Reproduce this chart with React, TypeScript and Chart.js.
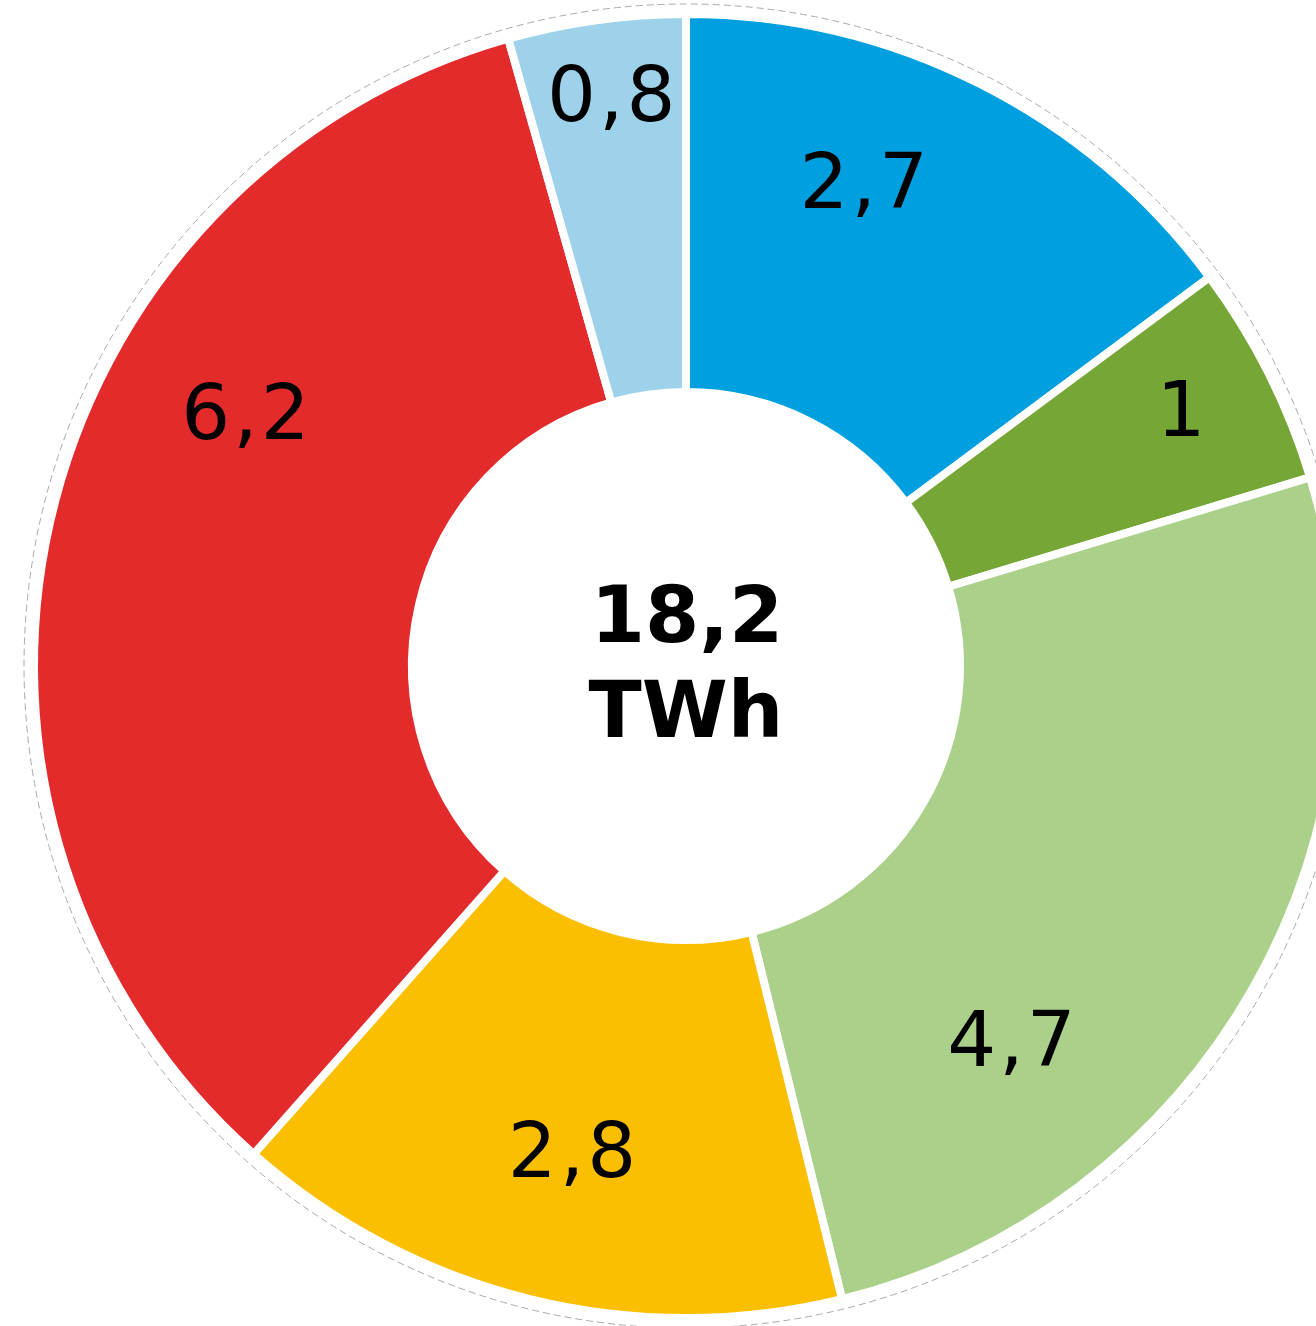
import React, { useEffect, useRef } from 'react';
import { Chart, registerables } from 'chart.js';

Chart.register(...registerables);

const categories = ['Segment A', 'Segment B', 'Segment C', 'Segment D', 'Segment E', 'Segment F'];
const values = [2.7, 1, 4.7, 2.8, 6.2, 0.8];
const valueLabels = ['2,7', '1', '4,7', '2,8', '6,2', '0,8'];
const colors = ['#009FDF', '#76A736', '#ABD08A', '#FBBF00', '#E32B2C', '#9DD2EA'];
const totalLines = ['18,2', 'TWh'];
// label placement inside each arc (fraction of the arc's angle span / ring thickness)
const labelAngleFrac = [0.376, 0.46, 0.706, 0.49, 0.64, 0.53];
const labelRadiusFrac = [0.648, 0.757, 0.585, 0.589, 0.624, 0.81];

const FONT = '"DejaVu Sans", Verdana, sans-serif';

const labelPlugin = {
  id: 'ringLabels',
  beforeDatasetsDraw(chart: any) {
    const meta = chart.getDatasetMeta(0);
    const arc0 = meta.data[0];
    if (!arc0) return;
    const p = arc0.getProps(['x', 'y', 'outerRadius'], true);
    const ctx = chart.ctx;
    ctx.save();
    ctx.strokeStyle = '#a9a9a9';
    ctx.lineWidth = 1;
    ctx.setLineDash([7, 4]);
    ctx.beginPath();
    ctx.arc(p.x, p.y, p.outerRadius + 10, 0, Math.PI * 2);
    ctx.stroke();
    ctx.restore();
  },
  afterDatasetsDraw(chart: any) {
    const ctx = chart.ctx;
    const meta = chart.getDatasetMeta(0);
    ctx.save();
    ctx.fillStyle = '#000';
    ctx.textAlign = 'center';
    ctx.textBaseline = 'alphabetic';
    const size = 77;
    ctx.font = `${size}px ${FONT}`;
    (ctx as any).letterSpacing = '3px';
    meta.data.forEach((arc: any, i: number) => {
      const p = arc.getProps(['x', 'y', 'startAngle', 'endAngle', 'innerRadius', 'outerRadius'], true);
      const a = p.startAngle + labelAngleFrac[i] * (p.endAngle - p.startAngle);
      const inner = p.innerRadius + 4;
      const outer = p.outerRadius - 4;
      const r = inner + labelRadiusFrac[i] * (outer - inner);
      const x = p.x + Math.cos(a) * r;
      const y = p.y + Math.sin(a) * r;
      ctx.fillText(valueLabels[i], x + 1.5, y + size * 0.365);
    });
    (ctx as any).letterSpacing = '0px';
    const c = meta.data[0].getProps(['x', 'y'], true);
    ctx.font = `bold 78px ${FONT}`;
    ctx.fillText(totalLines[0], c.x + 1, c.y - 24);
    ctx.fillText(totalLines[1], c.x, c.y + 71);
    ctx.restore();
  },
};

export default function App() {
  const ref = useRef<HTMLCanvasElement>(null);
  useEffect(() => {
    document.body.style.margin = '0';
    const canvas = ref.current!;
    const chart = new Chart(canvas, {
      type: 'doughnut',
      data: {
        labels: categories,
        datasets: [
          {
            data: values,
            backgroundColor: colors,
            borderColor: '#ffffff',
            borderWidth: 8,
          },
        ],
      },
      options: {
        responsive: false,
        animation: false,
        events: [],
        radius: 652,
        cutout: `${(274 / 652) * 100}%`,
        layout: { padding: 0 },
        plugins: {
          legend: { display: false },
          tooltip: { enabled: false },
          title: { display: false },
        },
      } as any,
      plugins: [labelPlugin],
    });
    return () => chart.destroy();
  }, []);
  return (
    <div
      style={{
        position: 'absolute',
        left: 0,
        top: 0,
        width: 1316,
        height: 1326,
        overflow: 'hidden',
        background: '#fff',
      }}
    >
      <canvas ref={ref} width={1372} height={1332} style={{ display: 'block', width: 1372, height: 1332 }} />
    </div>
  );
}
